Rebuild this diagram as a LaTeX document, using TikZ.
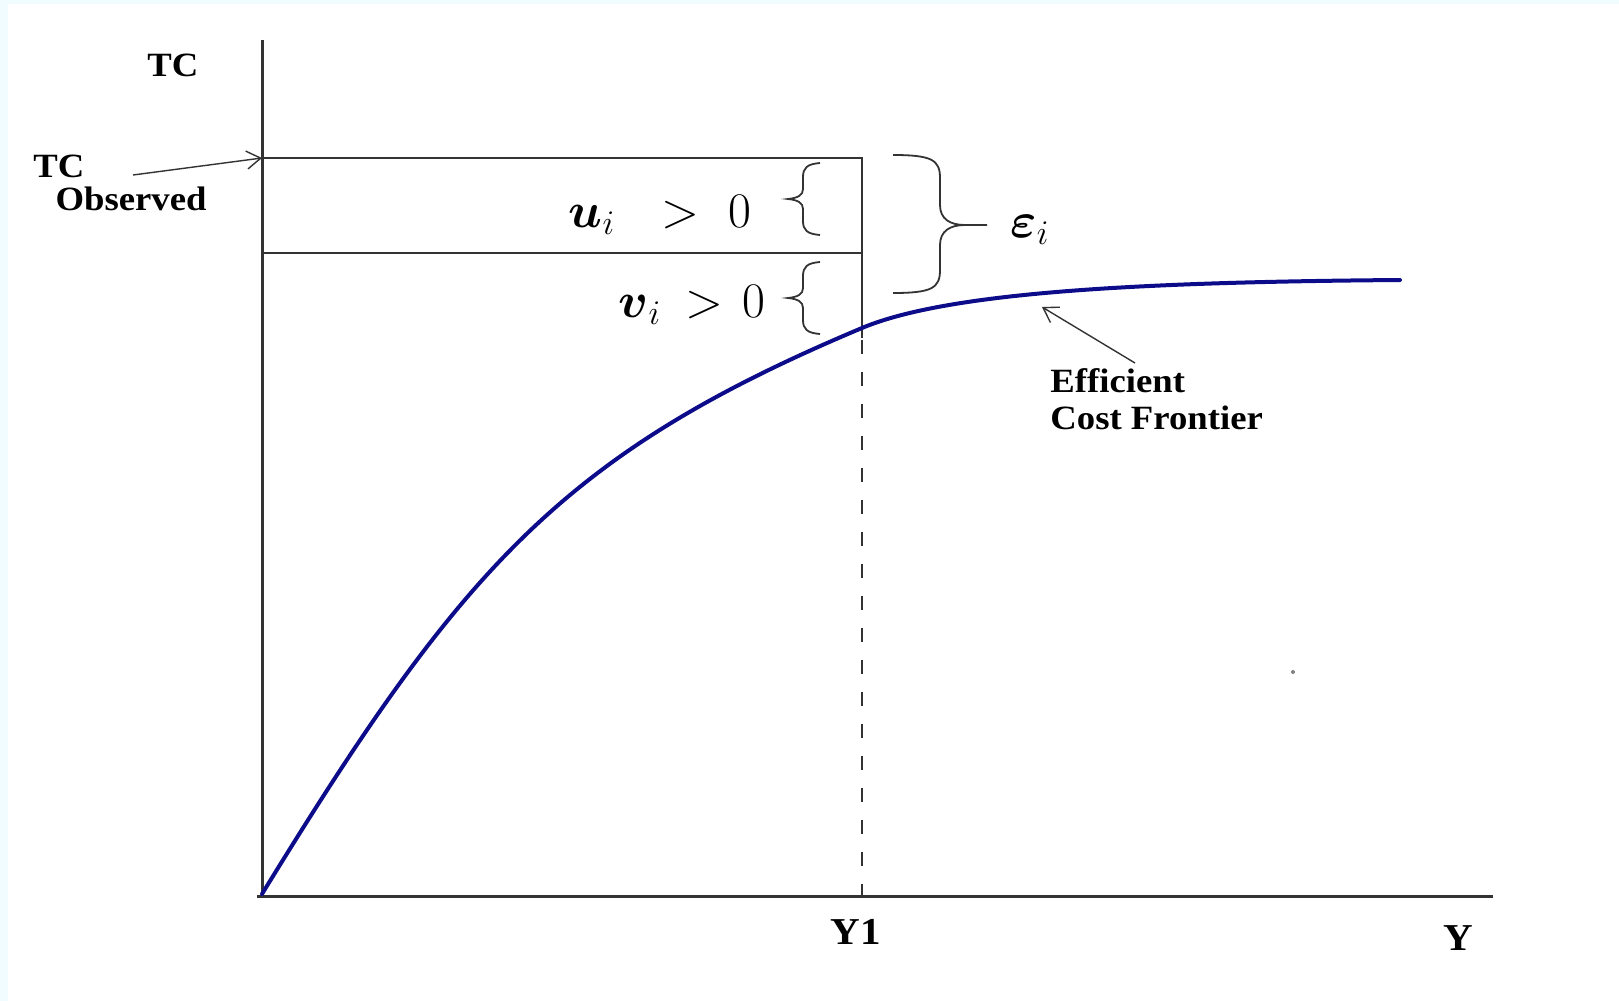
\documentclass[tikz,border=0pt]{standalone}
\usepackage{amsmath,amssymb}
\usepackage{fontspec}
\setmainfont{Liberation Serif}
\newfontfamily\lblfont{Liberation Serif}[FakeStretch=1.08]
\usetikzlibrary{arrows.meta}
\definecolor{AxisGray}{HTML}{333333}
\definecolor{FrontierBlue}{HTML}{0C0C8A}
\definecolor{EdgeCyan}{HTML}{F0FCFF}
\tikzset{>={Straight Barb[length=7pt,width=9pt]},
 axis/.style={draw=AxisGray,line width=1.5pt},
 guide/.style={draw=AxisGray,line width=1pt},
 pointer/.style={draw=AxisGray,line width=.7pt,->},
 frontier/.style={draw=FrontierBlue,line width=2pt,line cap=round},
 lbl/.style={font=\fontsize{17}{18.5}\lblfont\bfseries,inner sep=0pt},
 axlbl/.style={font=\fontsize{19}{22}\lblfont\bfseries,inner sep=0pt},
 mth/.style={font=\fontsize{24}{28}\selectfont,inner sep=0pt}}

\begin{document}
\begin{tikzpicture}[x=.5pt,y=-.5pt]
\useasboundingbox (0,0) rectangle (1619,1001);
\fill[EdgeCyan] (0,0) rectangle (1619,4);
\fill[EdgeCyan] (0,0) rectangle (8,1001);
% axes and the observed cost box
\coordinate (O) at (262,896);
\coordinate (ytop) at (262,40);
\coordinate (xstart) at (257,896);
\coordinate (xend) at (1493,896);
\coordinate (obs) at (262,158);
\coordinate (obsR) at (862,158);
\coordinate (midL) at (262,253);
\coordinate (midR) at (862,253);
\coordinate (front) at (862,328);
\coordinate (y1) at (862,896);
\draw[axis] (ytop)--(O);
\draw[axis] (xstart)--(xend);
\draw[guide] (obs)--(obsR)--(front)--++(0,10);
\draw[guide] (midL)--(midR);
\draw[guide,dash pattern=on 7pt off 9pt] (862,340)--(y1);
% frontier
\draw[frontier] (262,894) .. controls (462,568) and (562,454) .. (front)
 .. controls (950,291) and (1150,282) .. (1400,280);
% small braces for u and v
\foreach \t in {163,262}{
 \draw[AxisGray,line width=.9pt] (820,\t) .. controls (807,\t+1) and (803,\t+5) .. (803,\t+14)
  -- (803,\t+26) .. controls (803,\t+32) and (798,\t+35) .. (788,\t+36)
  .. controls (798,\t+37) and (803,\t+40) .. (803,\t+46) -- (803,\t+58)
  .. controls (803,\t+67) and (807,\t+71) .. (820,\t+72);
}
% big brace for epsilon
\draw[AxisGray,line width=.9pt] (893,155) .. controls (932,155) and (940,160) .. (940,178)
 -- (940,205) .. controls (940,219) and (950,225) .. (965,225) -- (987,225);
\draw[AxisGray,line width=.9pt] (893,293) .. controls (932,293) and (940,288) .. (940,270)
 -- (940,245) .. controls (940,231) and (950,225) .. (965,225);
% labels
\node[lbl] (tc) at (173,65) {TC};
\node[lbl,anchor=west] (tcobs) at (33,166) {TC};
\node[lbl] (observed) at (131,199) {Observed};
\node[mth,anchor=base east] (ui) at (752,227) {$\boldsymbol{u}_{i}\hspace{16pt}>\hspace{8pt}0$};
\node[mth,anchor=base east] (vi) at (766,317) {$\boldsymbol{v}_{i}\hspace{5pt}>\hspace{3pt}0$};
\node[font=\fontsize{25}{28}\selectfont,inner sep=0pt] (eps) at (1030,230) {$\boldsymbol{\varepsilon}_{i}$};
\node[lbl,anchor=north west,align=left] (frontlbl) at (1050,368) {Efficient\\Cost Frontier};
\node[axlbl] (y1lbl) at (856,932) {Y1};
\node[axlbl] (ylbl) at (1458,938) {Y};
% pointers
\coordinate (obstail) at (133,175);
\coordinate (fronttail) at (1135,363);
\coordinate (fronttip) at (1042,307);
\draw[pointer] (obstail)--(obs);
\draw[pointer] (fronttail)--(fronttip);
\fill[gray] (1293,672) circle (2);
\end{tikzpicture}
\end{document}
